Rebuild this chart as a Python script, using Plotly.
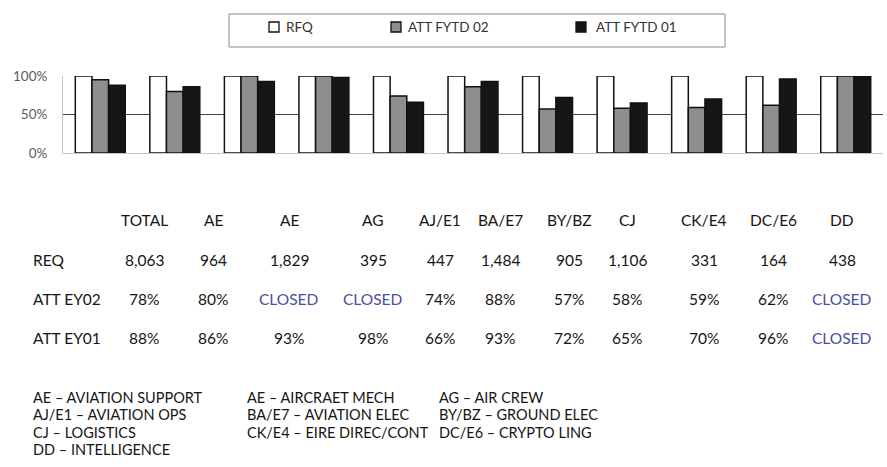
import plotly.graph_objects as go

# ---- data ----
groups = ["TOTAL", "AE", "AE", "AG", "AJ/E1", "BA/E7", "BY/BZ", "CJ", "CK/E4", "DC/E6", "DD"]
req_pct = [100, 100, 100, 100, 100, 100, 100, 100, 100, 100, 100]
att_fytd02 = [95, 80, 100, 100, 74, 86, 57, 58, 59, 62, 100]
att_fytd01 = [88, 86, 93, 98, 66, 93, 72, 65, 70, 96, 100]
legend_names = ["RFQ", "ATT FYTD 02", "ATT FYTD 01"]

row_labels = ["REQ", "ATT EY02", "ATT EY01"]
req_counts = ["8,063", "964", "1,829", "395", "447", "1,484", "905", "1,106", "331", "164", "438"]
att_ey02 = ["78%", "80%", "CLOSED", "CLOSED", "74%", "88%", "57%", "58%", "59%", "62%", "CLOSED"]
att_ey01 = ["88%", "86%", "93%", "98%", "66%", "93%", "72%", "65%", "70%", "96%", "CLOSED"]

key_lines = [
    ["AE – AVIATION SUPPORT", "AE – AIRCRAET MECH", "AG – AIR CREW"],
    ["AJ/E1 – AVIATION OPS", "BA/E7 – AVIATION ELEC", "BY/BZ – GROUND ELEC"],
    ["CJ – LOGISTICS", "CK/E4 – EIRE DIREC/CONT", "DC/E6 – CRYPTO LING"],
    ["DD – INTELLIGENCE"],
]

# ---- layout geometry (pixels) ----
W, H = 887, 467
ML, MR, MT, MB = 63, 4, 76, 314
PW, PH = W - ML - MR, H - MT - MB

def px(x):
    return (x - ML) / PW

def py(y):
    return (H - MB - y) / PH

FONT = "Lato"
fills = ["#ffffff", "#8e8e8e", "#161616"]
xs = list(range(len(groups)))

fig = go.Figure()
for name, vals, col in zip(legend_names, [req_pct, att_fytd02, att_fytd01], fills):
    fig.add_trace(go.Bar(
        x=xs, y=vals, name=name, showlegend=False,
        marker=dict(color=col, line=dict(color="#111111", width=1.5)),
        hovertext=groups,
    ))

annotations = []
shapes = []

# manual legend box
shapes.append(dict(type="rect", xref="paper", yref="paper",
                   x0=px(229), x1=px(725), y0=py(14), y1=py(47),
                   line=dict(color="#8a8a8a", width=1), fillcolor="rgba(0,0,0,0)"))
leg_sq = [269, 391, 576]
leg_tx = [284, 406, 594]
for sx, tx, col, name in zip(leg_sq, leg_tx, fills, legend_names):
    shapes.append(dict(type="rect", xref="paper", yref="paper",
                       x0=px(sx), x1=px(sx + 10), y0=py(22), y1=py(32),
                       line=dict(color="#111111", width=1.3), fillcolor=col))
    annotations.append(dict(xref="paper", yref="paper", x=px(tx), y=py(27),
                            text=name, showarrow=False, xanchor="left", yanchor="middle",
                            font=dict(family=FONT, size=13.5, color="#333333")))

# table
TFS = 15.5
col_x = [144, 213, 289, 373, 440, 500, 569, 627, 704, 773, 842]
row_y = [260, 299, 338]
for cx, g in zip(col_x, groups):
    annotations.append(dict(xref="paper", yref="paper", x=px(cx), y=py(220), text=g,
                            showarrow=False, xanchor="center", yanchor="middle",
                            font=dict(family=FONT, size=TFS, color="#151515")))
for ry, lab in zip(row_y, row_labels):
    annotations.append(dict(xref="paper", yref="paper", x=px(31), y=py(ry), text=lab,
                            showarrow=False, xanchor="left", yanchor="middle",
                            font=dict(family=FONT, size=TFS, color="#151515")))
for ry, row in zip(row_y, [req_counts, att_ey02, att_ey01]):
    for cx, v in zip(col_x, row):
        color = "#4a4f9c" if v == "CLOSED" else "#151515"
        annotations.append(dict(xref="paper", yref="paper", x=px(cx), y=py(ry), text=v,
                                showarrow=False, xanchor="center", yanchor="middle",
                                font=dict(family=FONT, size=TFS, color=color)))

# key
key_x = [31, 245, 437]
key_y = [397, 414, 432, 449]
for ky, line in zip(key_y, key_lines):
    for kx, t in zip(key_x, line):
        annotations.append(dict(xref="paper", yref="paper", x=px(kx), y=py(ky), text=t,
                                showarrow=False, xanchor="left", yanchor="middle",
                                font=dict(family=FONT, size=14.5, color="#151515")))

fig.update_layout(
    width=W, height=H,
    margin=dict(l=ML, r=MR, t=MT, b=MB, pad=0),
    paper_bgcolor="white", plot_bgcolor="white",
    barmode="group", bargap=0.33, bargroupgap=0,
    showlegend=False,
    annotations=annotations, shapes=shapes,
    xaxis=dict(range=[-0.5, len(groups) - 0.5], showticklabels=False, showgrid=False,
               zeroline=False, showline=True, linecolor="#c8c8c8", linewidth=1, ticks=""),
    yaxis=dict(range=[0, 100], tickvals=[0, 50, 100], ticktext=["0%", "50%", "100%"],
               showgrid=True, gridcolor="#444444", gridwidth=1, zeroline=False,
               showline=True, linecolor="#c8c8c8", linewidth=1, ticks="",
               ticklabelstandoff=12,
               tickfont=dict(family=FONT, size=13.5, color="#5a5a5a")),
)

fig.write_html("out.html")
